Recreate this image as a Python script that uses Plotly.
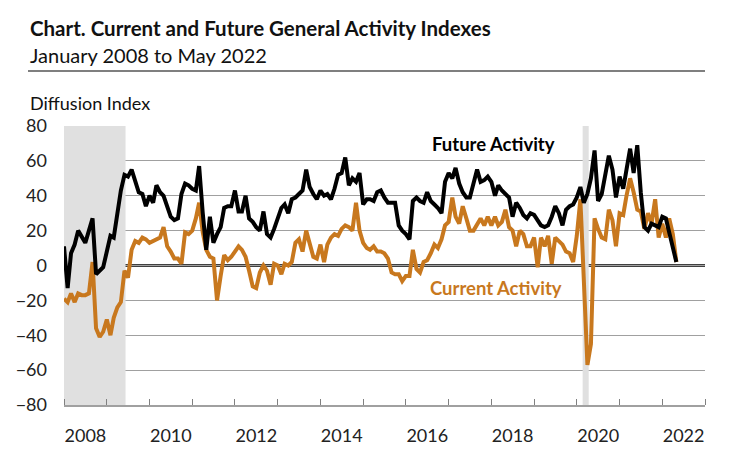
import plotly.graph_objects as go
import pandas as pd

# Monthly data, January 2008 - May 2022 (diffusion index)
current_activity = [
    -19, -21, -16, -21, -16, -17, -17, -16, 2, -36, -41, -38,   # 2008
    -31, -40, -30, -24, -21, -3, -7, 9, 14, 13, 16, 15,         # 2009
    13, 14, 15, 16, 22, 11, 8, 4, 4, 1, 19, 18,                 # 2010
    20, 27, 36, 19, 9, 5, 4, -20, -6, 6, 3, 5,                  # 2011
    8, 11, 9, 5, -3, -12, -13, -4, 0, -3, -11, 1,               # 2012
    0, -5, 1, 0, 2, 13, 15, 8, 20, 12, 5, 4,                    # 2013
    12, 2, 12, 16, 18, 17, 21, 23, 22, 20, 36, 20,              # 2014
    13, 10, 9, 11, 8, 8, 7, 4, -4, -5, -5, -9,                  # 2015
    -6, -6, 9, -2, -4, 2, 3, 7, 12, 10, 15, 23,                 # 2016
    25, 39, 28, 24, 34, 27, 20, 20, 24, 27, 23, 28,             # 2017
    23, 28, 23, 25, 32, 22, 20, 11, 20, 18, 11, 11,             # 2018
    16, -1, 16, 11, 17, 1, 16, 14, 12, 8, 7, 2,                 # 2019
    17, 38, -13, -57, -45, 27, 21, 16, 15, 32, 26, 11,          # 2020
    30, 29, 40, 50, 42, 32, 31, 21, 30, 24, 38, 16,             # 2021
    24, 16, 27, 18, 2,                                          # 2022
]
future_activity = [
    11, -13, 7, 12, 20, 16, 13, 20, 27, -5, -3, -1,             # 2008
    8, 17, 16, 31, 43, 52, 51, 55, 48, 42, 41, 34,              # 2009
    40, 36, 46, 42, 40, 34, 28, 26, 27, 41, 47, 46,             # 2010
    44, 43, 57, 30, 9, 28, 13, 18, 22, 33, 34, 34,              # 2011
    43, 31, 31, 40, 27, 25, 22, 20, 31, 18, 16, 21,             # 2012
    28, 33, 35, 30, 38, 39, 41, 43, 55, 45, 41, 38,             # 2013
    43, 40, 41, 38, 44, 52, 53, 62, 46, 50, 48, 53,             # 2014
    35, 38, 38, 37, 42, 43, 39, 36, 36, 36, 23, 20,             # 2015
    18, 15, 37, 39, 37, 36, 42, 37, 35, 33, 30, 48,             # 2016
    53, 50, 56, 47, 42, 39, 39, 47, 55, 48, 49, 51,             # 2017
    48, 40, 46, 43, 41, 39, 28, 36, 33, 29, 27, 30,             # 2018
    29, 26, 23, 22, 23, 28, 34, 30, 23, 32, 34, 35,             # 2019
    39, 45, 36, 41, 50, 66, 37, 41, 53, 63, 55, 39,             # 2020
    51, 44, 55, 67, 53, 69, 42, 22, 20, 24, 23, 22,             # 2021
    28, 27, 19, 9, 2,                                           # 2022
]
start_month = "2008-01-01"
label_years = [2008, 2010, 2012, 2014, 2016, 2018, 2020, 2022]
tick_years = list(range(2008, 2024))
recessions = [("2008-01-01", "2009-06-10"), ("2020-02-20", "2020-04-12")]
y_ticks = [-80, -60, -40, -20, 0, 20, 40, 60, 80]

months = pd.date_range(start_month, periods=len(current_activity), freq="MS")

FONT = "Lato"
ORANGE = "#C8781E"
GRID = "#A0A0A0"

# plot area in page pixels (page body has an 8px margin)
PL, PR, PT, PB = 64, 705, 126, 405
PW, PH = PR - PL, PB - PT


def px(x):
    return (x - PL) / PW


def py(y):
    return (PB - y) / PH


fig = go.Figure()
fig.add_trace(go.Scatter(x=months, y=current_activity, mode="lines",
                         name="Current Activity",
                         line=dict(color=ORANGE, width=4)))
fig.add_trace(go.Scatter(x=months, y=future_activity, mode="lines",
                         name="Future Activity",
                         line=dict(color="black", width=4)))

shapes = []
for x0, x1 in recessions:
    shapes.append(dict(type="rect", xref="x", yref="y", x0=x0, x1=x1,
                       y0=-80, y1=80, fillcolor="#E0E0E0",
                       line=dict(width=0), layer="between"))
shapes.append(dict(type="line", xref="paper", yref="y", x0=0, x1=1,
                   y0=0, y1=0, line=dict(color="black", width=2.5),
                   layer="between"))
shapes.append(dict(type="line", xref="paper", yref="paper",
                   x0=px(28), x1=1.0, y0=py(71), y1=py(71),
                   line=dict(color="#7F7F7F", width=2)))
fig.update_layout(shapes=shapes)

annotations = [
    dict(text="<b>Chart. Current and Future General Activity Indexes</b>",
         x=px(28), y=py(28), xref="paper", yref="paper",
         xanchor="left", yanchor="middle", showarrow=False,
         font=dict(family=FONT, size=20.5, color="#111111")),
    dict(text="January 2008 to May 2022",
         x=px(28), y=py(55), xref="paper", yref="paper",
         xanchor="left", yanchor="middle", showarrow=False,
         font=dict(family=FONT, size=20, color="#111111")),
    dict(text="Diffusion Index",
         x=px(28), y=py(103), xref="paper", yref="paper",
         xanchor="left", yanchor="middle", showarrow=False,
         font=dict(family=FONT, size=18, color="#111111")),
    dict(text="<b>Future Activity</b>",
         x=px(493), y=py(144), xref="paper", yref="paper",
         xanchor="center", yanchor="middle", showarrow=False,
         font=dict(family=FONT, size=18.5, color="black")),
    dict(text="<b>Current Activity</b>",
         x=px(496), y=py(288), xref="paper", yref="paper",
         xanchor="center", yanchor="middle", showarrow=False,
         font=dict(family=FONT, size=18.5, color=ORANGE)),
]
fig.update_layout(annotations=annotations)

fig.update_xaxes(
    type="date",
    range=["2008-01-01", "2023-01-01"],
    tickmode="array",
    tickvals=[f"{y}-07-02" for y in label_years],
    ticktext=[str(y) for y in label_years],
    ticks="",
    showgrid=False,
    zeroline=False,
    showline=True, linecolor=GRID, linewidth=1.5,
    tickfont=dict(family=FONT, size=18, color="#222222"),
    ticklabelstandoff=14,
    automargin=False,
    minor=dict(tickmode="array",
               tickvals=[f"{y}-01-01" for y in tick_years],
               ticks="inside", ticklen=6, tickwidth=1, tickcolor="#808080",
               showgrid=False),
    fixedrange=True,
)
fig.update_yaxes(
    range=[-80, 80],
    tickmode="array",
    tickvals=y_ticks,
    ticks="",
    showgrid=True, gridcolor=GRID, gridwidth=1.2,
    zeroline=False,
    showline=False,
    tickfont=dict(family=FONT, size=18, color="#222222"),
    ticklabelstandoff=16,
    automargin=False,
    fixedrange=True,
)
fig.update_layout(
    width=737, height=450,
    margin=dict(l=PL - 8, r=737 - (PR - 8), t=PT - 8, b=450 - (PB - 8)),
    plot_bgcolor="white", paper_bgcolor="white",
    showlegend=False,
    font=dict(family=FONT),
)
fig.write_html("out.html")
